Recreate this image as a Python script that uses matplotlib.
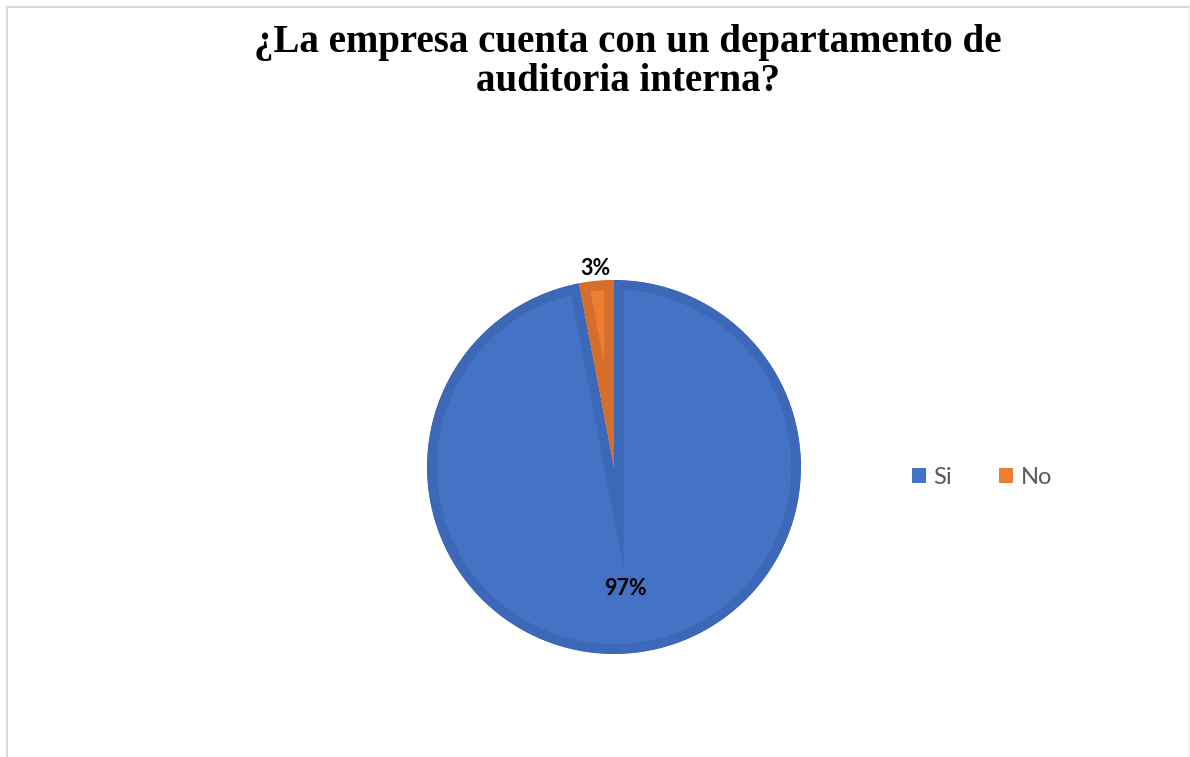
import matplotlib
matplotlib.use('Agg')
import matplotlib.pyplot as plt
from matplotlib.lines import Line2D
from matplotlib.patches import Rectangle
import numpy as np

# data
categorias = ['Si', 'No']
porcentajes = [97, 3]
etiquetas = ['97%', '3%']
colores = ['#4472c4', '#ed7d31']
bordes = ['#3d68b8', '#d46e2a']
dist_etiqueta = [0.655, 1.067]

titulo = '¿La empresa cuenta con un departamento de\nauditoria interna?'

fig = plt.figure(figsize=(11.9, 7.57), dpi=100)
fig.patch.set_facecolor('white')

# chart frame (left, top, right)
fig.add_artist(Line2D([6.5 / 1190, 6.5 / 1190], [0, 1 - 6.5 / 757],
                      color='#d9d9d9', lw=1.5, transform=fig.transFigure))
fig.add_artist(Line2D([6.5 / 1190, 1188.5 / 1190], [1 - 6.5 / 757, 1 - 6.5 / 757],
                      color='#d9d9d9', lw=1.5, transform=fig.transFigure))
fig.add_artist(Line2D([1188.5 / 1190, 1188.5 / 1190], [0, 1 - 6.5 / 757],
                      color='#f0f0f0', lw=1.0, transform=fig.transFigure))

fig.text(628 / 1190, 1 - 62 / 757, titulo, ha='center', va='center',
         fontsize=28, fontweight='bold', family='Liberation Serif',
         linespacing=1.1, color='black')

ax = fig.add_axes([(614 - 187) / 1190, (290 - 187) / 757, 374 / 1190, 374 / 757])
wedges, _ = ax.pie(porcentajes, colors=colores, startangle=90,
                   counterclock=False, radius=1.0)
ax.set_xlim(-1, 1)
ax.set_ylim(-1, 1)
ax.set_aspect('equal')
ax.axis('off')

# darker inner rim on each slice, clipped to the slice itself
for w, b in zip(wedges, bordes):
    w.set_edgecolor(b)
    w.set_linewidth(14)
    w.set_joinstyle('miter')
    w.set_clip_on(True)
    w.set_clip_path(w)

for w, txt, d in zip(wedges, etiquetas, dist_etiqueta):
    ang = np.deg2rad((w.theta1 + w.theta2) / 2)
    ax.text(d * np.cos(ang), d * np.sin(ang), txt, ha='center', va='center',
            fontsize=15.5, fontweight='bold', family='Lato', color='black',
            clip_on=False)

handles = [Rectangle((0, 0), 1, 1, facecolor=c) for c in colores]
fig.legend(handles, categorias, loc='center', bbox_to_anchor=(982 / 1190, 1 - 477 / 757),
           ncol=2, frameon=False, handlelength=0.6, handleheight=0.6,
           handletextpad=0.3, columnspacing=2.0,
           prop={'family': 'Lato', 'size': 17}, labelcolor='#595959')

fig.savefig('out.png', dpi=100, facecolor='white')
